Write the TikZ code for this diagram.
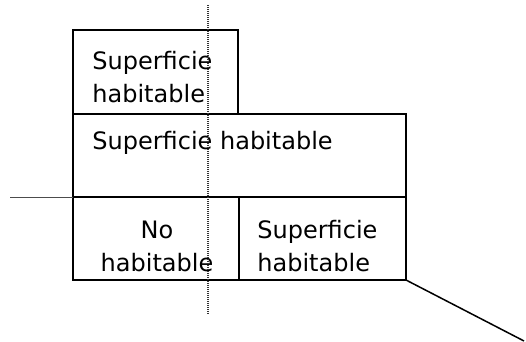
\documentclass[tikz,border=0pt]{standalone}
\usepackage{fontspec}
\setmainfont{DejaVu Sans}
\usetikzlibrary{positioning}
\tikzset{
room/.style={draw, line width=0.75pt, inner sep=0pt, outer sep=0pt}, % the boxes of the plan
txt/.style={font=\fontsize{12}{16.5}\selectfont, inner sep=0pt, text=black}, % the labels
axis/.style={line width=0.4pt, black!70}, % thin guide lines
}

\begin{document}
\begin{tikzpicture}[x=0.5pt, y=-0.5pt]
    \useasboundingbox (0,0) rectangle (526,342);
    % boxes
    \node[room, minimum width=82.5pt, minimum height=42pt] (upper) at (155.5,72) {};
    \node[room, minimum width=166.5pt, minimum height=41.5pt] (middle) at (239.5,155.5) {};
    \node[room, minimum width=83pt, minimum height=41.5pt] (lowleft) at (156,238.5) {};
    \node[room, minimum width=83.5pt, minimum height=41.5pt] (lowright) at (322.5,238.5) {};
    % labels
    \node[txt, align=left, anchor=west] (upperlbl) at (92,77) {Superficie\\habitable};
    \node[txt, anchor=base west] (middlelbl) at (92,150) {Superficie habitable};
    \node[txt, align=center] (lowleftlbl) at (157,246) {No\\habitable};
    \node[txt, align=left, anchor=west] (lowrightlbl) at (257,246) {Superficie\\habitable};
    % guide lines
    \coordinate (west) at (10,197);
    \coordinate (dottop) at (208,5);
    \coordinate (dotbottom) at (208,315);
    \coordinate (corner) at (524,341);
    \draw[axis] (west) -- (lowleft.north west);
    \draw[black!80, line width=0.7pt, dash pattern=on 0.5pt off 0.5pt] (dottop) -- (dotbottom);
    \draw[line width=0.75pt] (lowright.south east) -- (corner);
\end{tikzpicture}
\end{document}
